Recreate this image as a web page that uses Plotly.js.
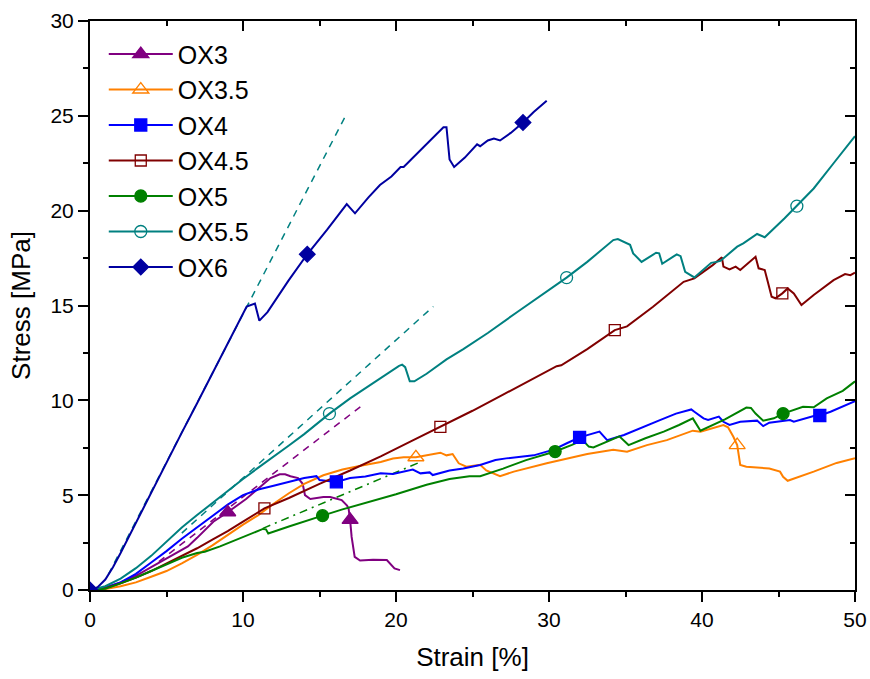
<!DOCTYPE html>
<html>
<head>
<meta charset="utf-8">
<script src="https://cdn.plot.ly/plotly-3.0.1.min.js"></script>
<style>html,body{margin:0;padding:0;background:#fff;}#chart{width:870px;height:679px;}</style>
</head>
<body>
<div id="chart"></div>
<script>
// ---------- data (strain %, stress MPa) ----------
const seriesNames = ["OX3", "OX3.5", "OX4", "OX4.5", "OX5", "OX5.5", "OX6"];

const ox3_x = [0,1,2,3,4,5,5.3,6.4,7,8.06,9.0,10.2,11.0,11.8,12.4,12.75,13.1,13.6,13.9,14.05,14.4,15.25,15.7,16.45,16.8,16.9,17.0,17.1,17.3,17.65,18.5,19.4,19.9,20.26];
const ox3_y = [0,0.12,0.4,0.75,1.2,1.65,1.78,2.3,2.75,3.6,4.1,4.8,5.35,5.9,6.1,6.1,6.0,5.9,5.6,5.0,4.8,4.9,4.9,4.74,4.45,4.3,3.7,2.8,1.75,1.55,1.6,1.58,1.14,1.05];
const ox3_mx = [9.0, 17.0];
const ox3_my = [4.1, 3.7];

const ox35_x = [0,1,2,3,4,5,6,7,8,9,10,11,12,13,14,15.25,16.5,17.86,19,19.8,20.5,21.3,22.2,22.9,23.3,23.7,24.1,24.6,25.5,25.9,26.8,27.7,29.85,31,32.5,34.2,35.1,36.4,37.7,39.4,39.9,41.4,41.7,42.05,42.3,42.5,42.9,44.4,45.1,45.3,45.6,47.3,48.8,50];
const ox35_y = [0,0.05,0.2,0.4,0.7,1.0,1.4,1.85,2.35,2.9,3.45,3.95,4.55,5.1,5.6,6.05,6.35,6.58,6.75,6.93,7.0,7.0,7.15,7.24,7.1,7.17,6.68,6.5,6.6,6.3,6.0,6.24,6.68,6.9,7.17,7.4,7.29,7.64,7.9,8.4,8.35,8.7,8.58,8.08,7.64,6.59,6.5,6.41,6.24,5.97,5.76,6.24,6.7,6.95];
const ox35_mx = [21.3, 42.3];
const ox35_my = [7.0, 7.64];

const ox4_x = [0,1,2,3,4,5,6,7,8,9,10,11,12,13,14,14.8,15.0,16.1,17,18,19,19.8,20.5,21.1,21.6,22.2,22.4,23.5,24.4,25.5,26.5,27.2,29.0,30.3,31.2,32.0,33.3,33.8,34.9,36,37.25,38.3,39.3,39.5,40.1,40.4,41.1,41.4,41.8,42.5,43.6,44.0,44.4,45.75,46.0,47.3,47.7,48.4,49.0,50];
const ox4_y = [0,0.12,0.4,0.85,1.45,2.05,2.7,3.3,3.9,4.5,5.0,5.3,5.5,5.7,5.9,6.0,5.8,5.7,5.9,5.98,6.15,6.12,6.25,6.35,6.15,6.2,6.06,6.3,6.41,6.59,6.85,6.94,7.1,7.4,7.75,8.05,8.35,7.9,8.17,8.55,8.96,9.3,9.52,9.4,9.05,8.96,9.14,8.87,8.7,8.87,8.93,8.64,8.82,8.96,8.87,9.17,9.2,9.4,9.62,9.95];
const ox4_mx = [16.1, 32.0, 47.7];
const ox4_my = [5.7, 8.05, 9.2];

const ox45_x = [0,1,2,3,4,5,6,7,8,9,10,11.4,13,15,17,19,21,22.9,25,27,29,30.5,30.8,31.4,32.5,34.3,35.1,36.8,38.8,39.5,40.7,41.3,41.4,41.8,42.2,42.5,43.5,43.7,44.1,44.3,44.55,44.8,45.25,45.6,46.0,46.5,47.3,48.6,49.35,49.7,50];
const ox45_y = [0,0.1,0.35,0.65,1.0,1.4,1.8,2.2,2.65,3.1,3.6,4.3,4.85,5.6,6.3,7.05,7.85,8.6,9.45,10.3,11.15,11.8,11.85,12.16,12.7,13.7,13.9,14.93,16.25,16.43,17.13,17.54,17.05,16.9,17.05,16.87,17.57,16.96,16.87,16.25,15.46,15.38,15.64,15.9,15.64,15.02,15.55,16.34,16.66,16.6,16.73];
const ox45_mx = [11.4, 22.9, 34.3, 45.25];
const ox45_my = [4.3, 8.6, 13.7, 15.64];

const ox5_x = [0,1,2,3,4,5,6,7,7.5,8.5,9.24,10.3,11.3,11.5,11.65,13,14,15.2,16.5,17.86,19,20,21,22,23.5,24.8,25.5,27,28.5,30.4,31.5,32.2,32.6,32.9,34.6,35.2,36.3,37.5,38.5,39.4,39.9,41.5,42.9,43.2,43.5,44.0,44.7,45.3,46.6,47.3,48.15,49.2,50];
const ox5_y = [0,0.07,0.35,0.65,1.0,1.37,1.7,1.95,2.02,2.3,2.54,2.9,3.22,3.2,2.98,3.35,3.62,3.92,4.25,4.56,4.8,5.05,5.3,5.55,5.85,6.0,6.0,6.4,6.85,7.3,7.65,7.9,7.56,7.52,8.1,7.64,8.0,8.35,8.7,9.05,8.4,9.0,9.62,9.6,9.3,8.93,9.05,9.3,9.66,9.63,10.1,10.5,11.0];
const ox5_mx = [15.2, 30.4, 45.3];
const ox5_my = [3.92, 7.3, 9.3];

const ox55_x = [0,1,2,3,4,5,6,7,8,9,10,11,12,13,14,15.65,17,18,19,20.2,20.4,20.6,20.9,21.2,22,23.3,24.4,26,28,30,31.15,32.5,34.2,34.5,35.1,35.3,35.5,36.05,37.0,37.2,37.4,38.35,38.6,38.9,39.5,40.6,40.95,41.2,42.3,42.7,43.6,44.1,45.4,46.2,47.3,48.6,50];
const ox55_y = [0,0.2,0.6,1.15,1.8,2.55,3.3,3.95,4.6,5.2,5.85,6.45,7.02,7.62,8.22,9.3,10.1,10.65,11.2,11.82,11.88,11.75,11.0,11.0,11.4,12.16,12.7,13.55,14.7,15.85,16.47,17.3,18.45,18.5,18.3,18.2,17.75,17.3,17.78,17.75,17.2,17.7,17.6,16.78,16.48,17.25,17.3,17.35,18.1,18.28,18.77,18.6,19.6,20.24,21.17,22.5,23.93];
const ox55_mx = [15.65, 31.15, 46.2];
const ox55_my = [9.3, 16.47, 20.24];

const ox6_x = [0,0.5,1,1.5,2,3,4,5,6,7,8,9,10,10.24,10.78,11.07,11.6,12.96,14.2,15.5,16.78,17.32,18.2,18.95,19.7,20.3,20.5,21.5,22.5,23.1,23.3,23.5,23.8,24.5,25.3,25.5,26.0,26.4,26.8,27.5,28.3,29.0,29.85];
const ox6_y = [0,0.15,0.55,1.2,1.95,3.55,5.15,6.7,8.3,9.85,11.4,12.95,14.5,14.95,15.1,14.2,14.65,16.3,17.7,19.0,20.35,19.86,20.7,21.35,21.8,22.3,22.3,23.1,23.9,24.4,24.4,22.7,22.3,22.8,23.5,23.4,23.7,23.8,23.7,24.1,24.65,25.2,25.8];
const ox6_mx = [0, 14.2, 28.3];
const ox6_my = [0, 17.7, 24.65];

// fitted (tangent) lines
const fit3_x = [4.5, 17.9];   const fit3_y = [1.5, 9.8];
const fit5_x = [11.3, 21.6];  const fit5_y = [3.25, 6.75];
const fit55_x = [6.0, 22.44]; const fit55_y = [3.0, 14.95];
const fit6_x = [1.2, 16.8];   const fit6_y = [0.82, 25.15];

const xTickVals = [0, 10, 20, 30, 40, 50];
const yTickVals = [0, 5, 10, 15, 20, 25, 30];

// ---------- styles ----------
const FONT = 'Arial, "Liberation Sans", sans-serif';
const series = [
  {name: seriesNames[0], x: ox3_x,  y: ox3_y,  mx: ox3_mx,  my: ox3_my,  color: '#800080', symbol: 'triangle-up',      size: 14},
  {name: seriesNames[1], x: ox35_x, y: ox35_y, mx: ox35_mx, my: ox35_my, color: '#FF8000', symbol: 'triangle-up-open', size: 14},
  {name: seriesNames[2], x: ox4_x,  y: ox4_y,  mx: ox4_mx,  my: ox4_my,  color: '#0000FF', symbol: 'square',           size: 12},
  {name: seriesNames[3], x: ox45_x, y: ox45_y, mx: ox45_mx, my: ox45_my, color: '#800000', symbol: 'square-open',      size: 11},
  {name: seriesNames[4], x: ox5_x,  y: ox5_y,  mx: ox5_mx,  my: ox5_my,  color: '#008000', symbol: 'circle',           size: 12},
  {name: seriesNames[5], x: ox55_x, y: ox55_y, mx: ox55_mx, my: ox55_my, color: '#008080', symbol: 'circle-open',      size: 12},
  {name: seriesNames[6], x: ox6_x,  y: ox6_y,  mx: ox6_mx,  my: ox6_my,  color: '#0000A0', symbol: 'diamond',          size: 12}
];

const traces = [];
// fit lines first (underneath)
traces.push({x: fit6_x, y: fit6_y, mode: 'lines', line: {color: '#008080', width: 1.5, dash: '7px,6px'}, showlegend: false, hoverinfo: 'skip'});
traces.push({x: fit55_x, y: fit55_y, mode: 'lines', line: {color: '#008080', width: 1.5, dash: '7px,6px'}, showlegend: false, hoverinfo: 'skip'});
traces.push({x: fit3_x, y: fit3_y, mode: 'lines', line: {color: '#800080', width: 1.5, dash: '7px,6px'}, showlegend: false, hoverinfo: 'skip'});
traces.push({x: fit5_x, y: fit5_y, mode: 'lines', line: {color: '#008000', width: 1.5, dash: '8px,5px,2px,5px'}, showlegend: false, hoverinfo: 'skip'});

series.forEach(s => {
  traces.push({x: s.x, y: s.y, mode: 'lines', line: {color: s.color, width: 2}, showlegend: false, hoverinfo: 'skip'});
});
series.forEach(s => {
  traces.push({x: s.mx, y: s.my, mode: 'markers', showlegend: false, hoverinfo: 'skip',
    marker: {symbol: s.symbol, size: s.size, color: s.color, line: {color: s.color, width: 1.3}}});
});
series.forEach(s => {
  traces.push({x: [null], y: [null], mode: 'lines+markers', name: s.name,
    line: {color: s.color, width: 2},
    marker: {symbol: s.symbol, size: s.size, color: s.color, line: {color: s.color, width: 1.3}}});
});
// dummy trace so the mirrored (top/right) axes exist
traces.push({x: [null], y: [null], xaxis: 'x2', yaxis: 'y2', mode: 'lines', showlegend: false, hoverinfo: 'skip'});

const common = {showgrid: false, zeroline: false, showline: true, linecolor: '#000', linewidth: 2,
  tickcolor: '#000', tickwidth: 2, ticklen: 10};

const layout = {
  width: 870, height: 679,
  margin: {l: 90, r: 15, t: 21, b: 89},
  paper_bgcolor: '#fff', plot_bgcolor: '#fff',
  font: {family: FONT, color: '#000'},
  showlegend: true,
  legend: {x: 0.018, y: 0.982, xanchor: 'left', yanchor: 'top', bgcolor: 'rgba(0,0,0,0)',
    font: {family: FONT, size: 25, color: '#000'}, itemwidth: 64, tracegroupgap: 0},
  xaxis: Object.assign({}, common, {range: [0, 50], tickvals: xTickVals, ticks: 'outside',
    tickfont: {family: FONT, size: 21},
    minor: {dtick: 5, ticks: 'outside', ticklen: 5, tickwidth: 2, tickcolor: '#000'},
    title: {text: 'Strain [%]', font: {family: FONT, size: 26}, standoff: 18}}),
  yaxis: Object.assign({}, common, {range: [0, 30], tickvals: yTickVals, ticks: 'outside',
    tickfont: {family: FONT, size: 21},
    minor: {dtick: 2.5, ticks: 'outside', ticklen: 5, tickwidth: 2, tickcolor: '#000'},
    title: {text: 'Stress [MPa]', font: {family: FONT, size: 26}, standoff: 12}}),
  xaxis2: Object.assign({}, common, {overlaying: 'x', side: 'top', range: [0, 50], tickvals: xTickVals,
    ticks: 'inside', showticklabels: false,
    minor: {dtick: 5, ticks: 'inside', ticklen: 5, tickwidth: 2, tickcolor: '#000'}}),
  yaxis2: Object.assign({}, common, {overlaying: 'y', side: 'right', range: [0, 30], tickvals: yTickVals,
    ticks: 'inside', showticklabels: false,
    minor: {dtick: 2.5, ticks: 'inside', ticklen: 5, tickwidth: 2, tickcolor: '#000'}})
};

Plotly.newPlot('chart', traces, layout, {displayModeBar: false, staticPlot: true});
</script>
</body>
</html>
